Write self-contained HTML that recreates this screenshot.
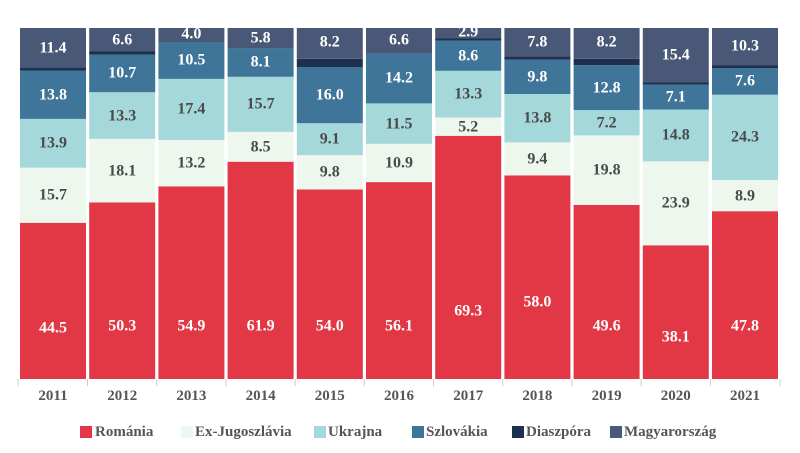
<!DOCTYPE html>
<html><head><meta charset="utf-8"><style>
html,body{margin:0;padding:0;background:#fff;}
svg{display:block;font-family:"Liberation Serif","DejaVu Serif",serif;font-weight:bold;font-size:16px;}
.w{fill:#fff}.d{fill:#4a4a4a}
text{text-anchor:middle;dominant-baseline:central;}
.y{font-size:15px;fill:#555}
.R{fill:#e23744}.E{fill:#eef7ee}.U{fill:#a5d8da}.S{fill:#3f7598}.D{fill:#1e3050}.M{fill:#4a5877}
</style></head><body>
<svg width="800" height="453" viewBox="0 0 800 453">
<g stroke="#ccc" stroke-width="1">
<line x1="18" y1="379" x2="18" y2="386"/><line x1="87.5" y1="379" x2="87.5" y2="386"/><line x1="156.7" y1="379" x2="156.7" y2="386"/><line x1="225.9" y1="379" x2="225.9" y2="386"/><line x1="295.1" y1="379" x2="295.1" y2="386"/><line x1="364.3" y1="379" x2="364.3" y2="386"/><line x1="433.5" y1="379" x2="433.5" y2="386"/><line x1="502.7" y1="379" x2="502.7" y2="386"/><line x1="571.9" y1="379" x2="571.9" y2="386"/><line x1="641.1" y1="379" x2="641.1" y2="386"/><line x1="710.3" y1="379" x2="710.3" y2="386"/><line x1="780" y1="379" x2="780" y2="386"/>
</g>
<g transform="translate(20,0)">
<rect class="R" y="222.8" width="66" height="156.2"/><rect class="E" y="167.7" width="66" height="55.1"/><rect class="U" y="118.9" width="66" height="48.8"/><rect class="S" y="70.5" width="66" height="48.4"/><rect class="D" y="68" width="66" height="2.5"/><rect class="M" y="28" width="66" height="40"/>
<text x="33" y="328" class="w">44.5</text><text x="33" y="195" class="d">15.7</text><text x="33" y="143" class="d">13.9</text><text x="33" y="95" class="w">13.8</text><text x="33" y="48" class="w">11.4</text>
<text x="33" y="396" class="y">2011</text></g>
<g transform="translate(89.2,0)">
<rect class="R" y="202.4" width="66" height="176.6"/><rect class="E" y="138.9" width="66" height="63.5"/><rect class="U" y="92.2" width="66" height="46.7"/><rect class="S" y="54.6" width="66" height="37.6"/><rect class="D" y="51.1" width="66" height="3.5"/><rect class="M" y="28" width="66" height="23.1"/>
<text x="33" y="326" class="w">50.3</text><text x="33" y="171" class="d">18.1</text><text x="33" y="116" class="d">13.3</text><text x="33" y="73" class="w">10.7</text><text x="33" y="40" class="w">6.6</text>
<text x="33" y="396" class="y">2012</text></g>
<g transform="translate(158.4,0)">
<rect class="R" y="186.3" width="66" height="192.7"/><rect class="E" y="140" width="66" height="46.3"/><rect class="U" y="78.9" width="66" height="61.1"/><rect class="S" y="42" width="66" height="36.9"/><rect class="M" y="28" width="66" height="14"/>
<text x="33" y="326" class="w">54.9</text><text x="33" y="163" class="d">13.2</text><text x="33" y="109" class="d">17.4</text><text x="33" y="60" class="w">10.5</text><text x="33" y="34" class="w">4.0</text>
<text x="33" y="396" class="y">2013</text></g>
<g transform="translate(227.6,0)">
<rect class="R" y="161.7" width="66" height="217.3"/><rect class="E" y="131.9" width="66" height="29.8"/><rect class="U" y="76.8" width="66" height="55.1"/><rect class="S" y="48.4" width="66" height="28.4"/><rect class="M" y="28" width="66" height="20.4"/>
<text x="33" y="326" class="w">61.9</text><text x="33" y="147" class="d">8.5</text><text x="33" y="104" class="d">15.7</text><text x="33" y="62" class="w">8.1</text><text x="33" y="38" class="w">5.8</text>
<text x="33" y="396" class="y">2014</text></g>
<g transform="translate(296.8,0)">
<rect class="R" y="189.5" width="66" height="189.5"/><rect class="E" y="155.1" width="66" height="34.4"/><rect class="U" y="123.2" width="66" height="31.9"/><rect class="S" y="67" width="66" height="56.2"/><rect class="D" y="58.8" width="66" height="8.2"/><rect class="M" y="28" width="66" height="30.8"/>
<text x="33" y="326" class="w">54.0</text><text x="33" y="172" class="d">9.8</text><text x="33" y="139" class="d">9.1</text><text x="33" y="95" class="w">16.0</text><text x="33" y="42" class="w">8.2</text>
<text x="33" y="396" class="y">2015</text></g>
<g transform="translate(366,0)">
<rect class="R" y="182.1" width="66" height="196.9"/><rect class="E" y="143.8" width="66" height="38.3"/><rect class="U" y="103.4" width="66" height="40.4"/><rect class="S" y="53.6" width="66" height="49.8"/><rect class="M" y="28" width="66" height="25.6"/>
<text x="33" y="326" class="w">56.1</text><text x="33" y="163" class="d">10.9</text><text x="33" y="124" class="d">11.5</text><text x="33" y="78" class="w">14.2</text><text x="33" y="40" class="w">6.6</text>
<text x="33" y="396" class="y">2016</text></g>
<g transform="translate(435.2,0)">
<rect class="R" y="135.8" width="66" height="243.2"/><rect class="E" y="117.5" width="66" height="18.3"/><rect class="U" y="70.8" width="66" height="46.7"/><rect class="S" y="40.6" width="66" height="30.2"/><rect class="D" y="38.1" width="66" height="2.5"/><rect class="M" y="28" width="66" height="10.1"/>
<text x="33" y="311" class="w">69.3</text><text x="33" y="127" class="d">5.2</text><text x="33" y="94" class="d">13.3</text><text x="33" y="56" class="w">8.6</text><text x="33" y="32" class="w">2.9</text>
<text x="33" y="396" class="y">2017</text></g>
<g transform="translate(504.4,0)">
<rect class="R" y="175.4" width="66" height="203.6"/><rect class="E" y="142.4" width="66" height="33"/><rect class="U" y="94" width="66" height="48.4"/><rect class="S" y="59.6" width="66" height="34.4"/><rect class="D" y="56.4" width="66" height="3.2"/><rect class="M" y="28" width="66" height="28.4"/>
<text x="33" y="302" class="w">58.0</text><text x="33" y="159" class="d">9.4</text><text x="33" y="118" class="d">13.8</text><text x="33" y="77" class="w">9.8</text><text x="33" y="42" class="w">7.8</text>
<text x="33" y="396" class="y">2018</text></g>
<g transform="translate(573.6,0)">
<rect class="R" y="204.9" width="66" height="174.1"/><rect class="E" y="135.4" width="66" height="69.5"/><rect class="U" y="110.1" width="66" height="25.3"/><rect class="S" y="65.2" width="66" height="44.9"/><rect class="D" y="58.8" width="66" height="6.4"/><rect class="M" y="28" width="66" height="30.8"/>
<text x="33" y="326" class="w">49.6</text><text x="33" y="170" class="d">19.8</text><text x="33" y="123" class="d">7.2</text><text x="33" y="88" class="w">12.8</text><text x="33" y="42" class="w">8.2</text>
<text x="33" y="396" class="y">2019</text></g>
<g transform="translate(642.8,0)">
<rect class="R" y="245.3" width="66" height="133.7"/><rect class="E" y="161.4" width="66" height="83.9"/><rect class="U" y="109.5" width="66" height="51.9"/><rect class="S" y="84.6" width="66" height="24.9"/><rect class="D" y="82.1" width="66" height="2.5"/><rect class="M" y="28" width="66" height="54.1"/>
<text x="33" y="337" class="w">38.1</text><text x="33" y="203" class="d">23.9</text><text x="33" y="135" class="d">14.8</text><text x="33" y="97" class="w">7.1</text><text x="33" y="55" class="w">15.4</text>
<text x="33" y="396" class="y">2020</text></g>
<g transform="translate(712,0)">
<rect class="R" y="211.2" width="66" height="167.8"/><rect class="E" y="180" width="66" height="31.2"/><rect class="U" y="94.7" width="66" height="85.3"/><rect class="S" y="68" width="66" height="26.7"/><rect class="D" y="65.1" width="66" height="2.9"/><rect class="M" y="28" width="66" height="37.1"/>
<text x="33" y="326" class="w">47.8</text><text x="33" y="196" class="d">8.9</text><text x="33" y="137" class="d">24.3</text><text x="33" y="81" class="w">7.6</text><text x="33" y="46" class="w">10.3</text>
<text x="33" y="396" class="y">2021</text></g>
<g style="font-size:15px" fill="#555">
<rect class="R" x="80" y="426" width="12" height="12"/><text x="95" y="432" style="text-anchor:start">Románia</text>
<rect class="E" x="181" y="426" width="12" height="12"/><text x="195" y="432" style="text-anchor:start">Ex-Jugoszlávia</text>
<rect class="U" x="314" y="426" width="12" height="12"/><text x="328" y="432" style="text-anchor:start">Ukrajna</text>
<rect class="S" x="412" y="426" width="12" height="12"/><text x="426" y="432" style="text-anchor:start">Szlovákia</text>
<rect class="D" x="512" y="426" width="12" height="12"/><text x="526" y="432" style="text-anchor:start">Diaszpóra</text>
<rect class="M" x="610" y="426" width="12" height="12"/><text x="624" y="432" style="text-anchor:start">Magyarország</text>
</g>
</svg>
</body></html>
